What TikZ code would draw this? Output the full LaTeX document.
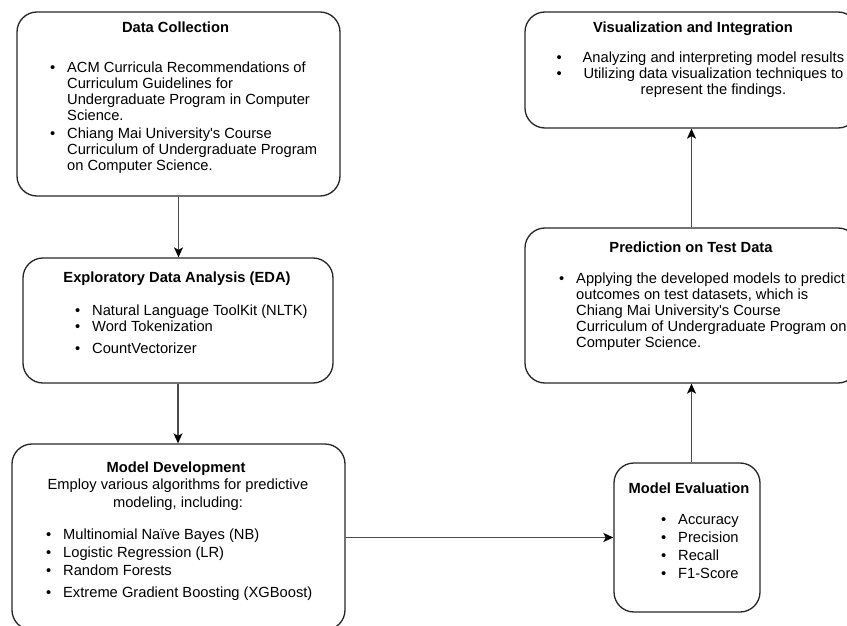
\documentclass[tikz,border=0pt]{standalone}
\usepackage{fontspec}
\setmainfont{Liberation Sans}
\usetikzlibrary{arrows.meta}
\newcommand{\bl}[1][17pt]{\makebox[#1][l]{\textbullet}}
\begin{document}
\begin{tikzpicture}[x=1pt,y=-1pt,
  box/.style={draw=black!85, line width=1.3pt, rounded corners=20pt, rectangle, inner sep=0pt},
  txt/.style={inner sep=0pt, font=\fontsize{14.7}{16}\selectfont},
  ttl/.style={inner sep=0pt, font=\fontsize{14.7}{16}\selectfont\bfseries, anchor=base},
  arr/.style={draw=black!70, line width=1.3pt, -{Stealth[length=10pt,width=9pt,inset=2.5pt,color=black]}}]
\useasboundingbox (0,0) rectangle (847,626);

% boxes
\node[box, minimum width=323, minimum height=184] (dc) at (178.5,104) {};
\node[box, minimum width=310, minimum height=125] (eda) at (178,320.5) {};
\node[box, minimum width=333, minimum height=186] (md) at (178.5,537) {};
\node[box, minimum width=146, minimum height=149] (me) at (687,537.5) {};
\node[box, minimum width=333, minimum height=155] (pred) at (691.5,305.5) {};
\node[box, minimum width=333, minimum height=116] (vis) at (691.5,70) {};

% Data Collection
\node[ttl] (dct) at (175.5,33) {Data Collection};
\node[txt, anchor=base west] (dcl) at (50,73) {\begin{tabular}[t]{@{}l@{}l@{}}
\bl & ACM Curricula Recommendations of\\
 & Curriculum Guidelines for\\
 & Undergraduate Program in Computer\\
 & Science.\\[2pt]
\bl & Chiang Mai University\textquotesingle s Course\\
 & Curriculum of Undergraduate Program\\
 & on Computer Science.
\end{tabular}};

% EDA
\node[ttl] (edat) at (177,282) {Exploratory Data Analysis (EDA)};
\node[txt, anchor=base west] (edal) at (75,315) {\begin{tabular}[t]{@{}l@{}l@{}}
\bl & Natural Language ToolKit (NLTK)\\
\bl & Word Tokenization\\[6pt]
\bl & CountVectorizer
\end{tabular}};

% Model Development
\node[ttl] (mdt) at (176,472) {Model Development};
\node[txt, anchor=base] (mdd) at (178,489) {\begin{tabular}[t]{@{}c@{}}
Employ various algorithms for predictive\\[2pt]
modeling, including:
\end{tabular}};
\node[txt, anchor=base west] (mdl) at (46,539) {\begin{tabular}[t]{@{}l@{}l@{}}
\bl & Multinomial Naïve Bayes (NB)\\[2pt]
\bl & Logistic Regression (LR)\\[2pt]
\bl & Random Forests\\[6pt]
\bl & Extreme Gradient Boosting (XGBoost)
\end{tabular}};

% Model Evaluation
\node[ttl] (met) at (689,493) {Model Evaluation};
\node[txt, anchor=base west] (mel) at (661,524) {\begin{tabular}[t]{@{}l@{}l@{}}
\bl & Accuracy\\[2pt]
\bl & Precision\\[2pt]
\bl & Recall\\[2pt]
\bl & F1-Score
\end{tabular}};

% Prediction on Test Data
\node[ttl] (predt) at (691,252) {Prediction on Test Data};
\node[txt, anchor=base west] (predl) at (559,283) {\begin{tabular}[t]{@{}l@{}l@{}}
\bl & Applying the developed models to predict\\
 & outcomes on test datasets, which is\\
 & Chiang Mai University\textquotesingle s Course\\
 & Curriculum of Undergraduate Program on\\
 & Computer Science.
\end{tabular}};

% Visualization and Integration
\node[ttl] (vist) at (693,33) {Visualization and Integration};
\node[txt, anchor=base west] (visl) at (556.5,63) {\begin{tabular}[t]{@{}l@{}c@{}}
\bl[26pt] & Analyzing and interpreting model results\\
\bl[26pt] & Utilizing data visualization techniques to\\
 & represent the findings.
\end{tabular}};

% connectors
\draw[arr] (dc.south) -- (dc.south |- eda.north);
\draw[arr] (eda.south) -- (eda.south |- md.north);
\draw[arr] (md.east |- me.west) -- (me.west);
\draw[arr] (me.north -| pred.south) -- (pred.south);
\draw[arr] (pred.north) -- (vis.south);
\end{tikzpicture}
\end{document}
